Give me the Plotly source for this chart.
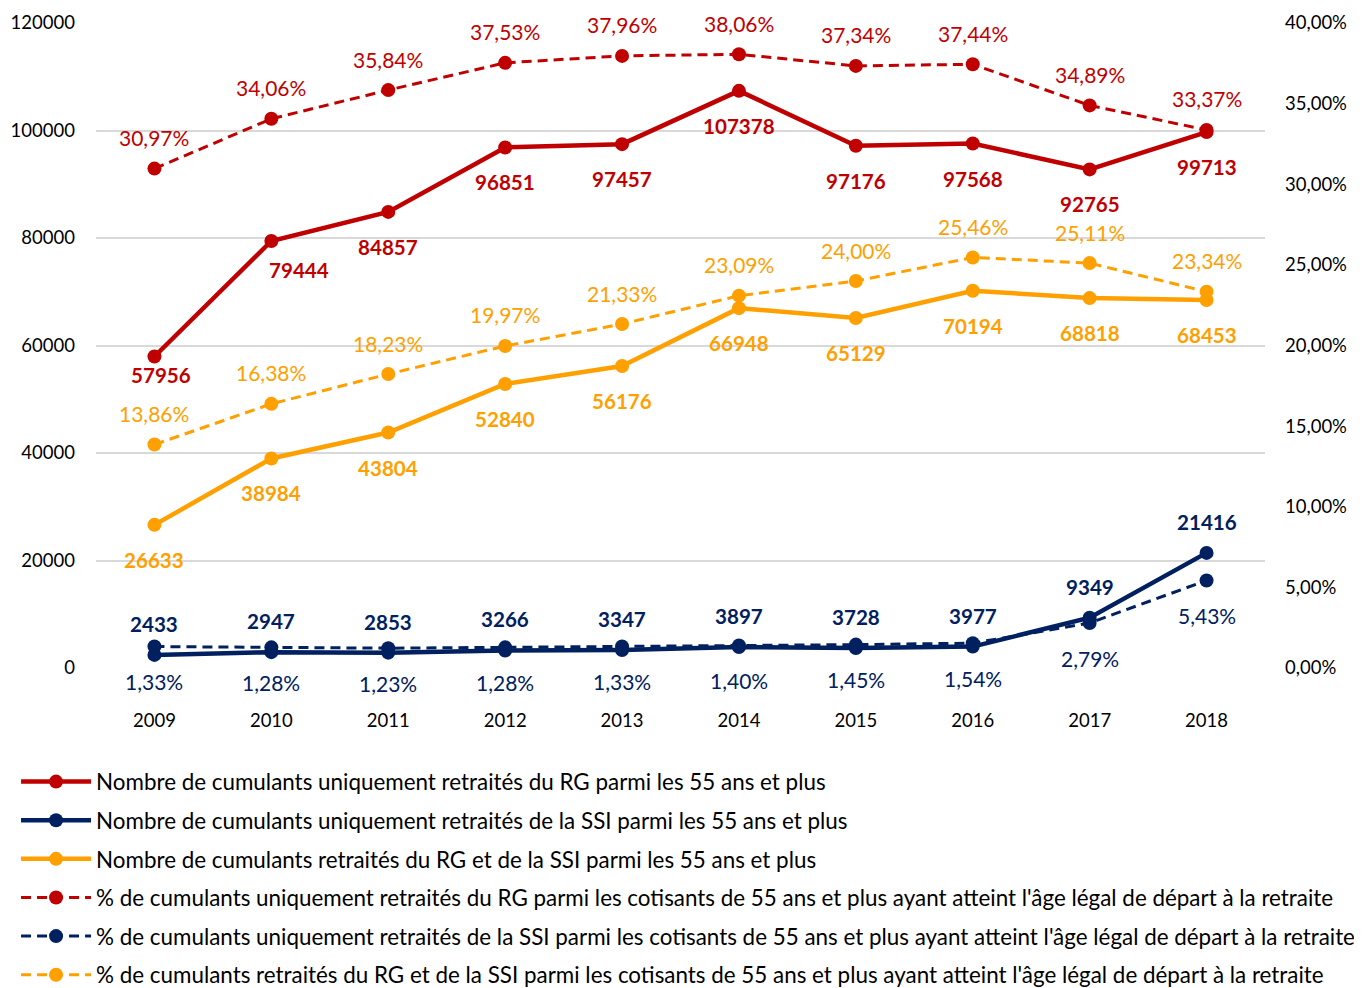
import plotly.graph_objects as go

years = ["2009", "2010", "2011", "2012", "2013", "2014", "2015", "2016", "2017", "2018"]

rg_count = [57956, 79444, 84857, 96851, 97457, 107378, 97176, 97568, 92765, 99713]
ssi_count = [2433, 2947, 2853, 3266, 3347, 3897, 3728, 3977, 9349, 21416]
both_count = [26633, 38984, 43804, 52840, 56176, 66948, 65129, 70194, 68818, 68453]

rg_pct = [30.97, 34.06, 35.84, 37.53, 37.96, 38.06, 37.34, 37.44, 34.89, 33.37]
ssi_pct = [1.33, 1.28, 1.23, 1.28, 1.33, 1.40, 1.45, 1.54, 2.79, 5.43]
both_pct = [13.86, 16.38, 18.23, 19.97, 21.33, 23.09, 24.00, 25.46, 25.11, 23.34]

names = [
    "Nombre de cumulants uniquement retraités du RG parmi les 55 ans et plus",
    "Nombre de cumulants uniquement retraités de la SSI parmi les 55 ans et plus",
    "Nombre de cumulants retraités du RG et de la SSI parmi les 55 ans et plus",
    "% de cumulants uniquement retraités du RG parmi les cotisants de 55 ans et plus ayant atteint l'âge légal de départ à la retraite",
    "% de cumulants uniquement retraités de la SSI parmi les cotisants de 55 ans et plus ayant atteint l'âge légal de départ à la retraite",
    "% de cumulants retraités du RG et de la SSI parmi les cotisants de 55 ans et plus ayant atteint l'âge légal de départ à la retraite",
]

RED = "#C00000"
NAVY = "#002060"
ORANGE = "#FFA000"
FONT = "Lato"

xpos = list(range(len(years)))

fig = go.Figure()

def add_series(y, name, color, dashed, axis, group):
    fig.add_trace(go.Scatter(
        x=xpos, y=y, name=name, mode="lines+markers",
        line=dict(color=color, width=3 if dashed else 4.5,
                  dash="10px,6px" if dashed else "solid"),
        marker=dict(color=color, size=14, symbol="circle"),
        yaxis=axis, legendgroup=group,
    ))

add_series(rg_count, names[0], RED, False, "y", "g1")
add_series(ssi_count, names[1], NAVY, False, "y", "g2")
add_series(both_count, names[2], ORANGE, False, "y", "g3")
add_series([v / 100 for v in rg_pct], names[3], RED, True, "y2", "g4")
add_series([v / 100 for v in ssi_pct], names[4], NAVY, True, "y2", "g5")
add_series([v / 100 for v in both_pct], names[5], ORANGE, True, "y2", "g6")

ABOVE = -31
BELOW = 35
# manual label offsets (dx, dy in px) used in the original for a couple of labels
rg_label_override = {0: (7, 19), 1: (28, 29)}

def pct_text(v):
    return f"{v:.2f}".replace(".", ",") + "%"

def add_labels(vals, texts, color, bold, yref, shift, override=None):
    for i, (v, t) in enumerate(zip(vals, texts)):
        dx, dy = 0, shift
        if override and i in override:
            dx, dy = override[i]
        fig.add_annotation(
            x=xpos[i], y=v, xref="x", yref=yref, text=f"<b>{t}</b>" if bold else t,
            showarrow=False, xshift=dx, yshift=-dy, xanchor="center", yanchor="middle",
            font=dict(family=FONT, size=20.6 if bold else 21, color=color),
        )

add_labels(rg_count, [str(v) for v in rg_count], RED, True, "y", BELOW, rg_label_override)
add_labels(ssi_count, [str(v) for v in ssi_count], NAVY, True, "y", ABOVE)
add_labels(both_count, [str(v) for v in both_count], ORANGE, True, "y", BELOW)
add_labels([v / 100 for v in rg_pct], [pct_text(v) for v in rg_pct], RED, False, "y2", ABOVE)
add_labels([v / 100 for v in ssi_pct], [pct_text(v) for v in ssi_pct], NAVY, False, "y2", BELOW)
add_labels([v / 100 for v in both_pct], [pct_text(v) for v in both_pct], ORANGE, False, "y2", ABOVE)

TICKFONT = dict(family=FONT, size=18.5, color="#000000")

fig.update_layout(
    width=1354, height=980,
    margin=dict(l=88, r=97, t=15, b=320, pad=0),
    paper_bgcolor="white", plot_bgcolor="white",
    separators=", ",
    font=dict(family=FONT, size=18, color="#000000"),
    showlegend=True,
    xaxis=dict(range=[-0.5, 9.5], tickmode="array", tickvals=xpos, ticktext=years,
               showgrid=False, showline=False, automargin=False,
               zeroline=False, ticks="", ticklabelstandoff=39, tickfont=TICKFONT),
    yaxis=dict(range=[0, 120000], dtick=20000, tickformat="d", showgrid=True,
               gridcolor="#D9D9D9", gridwidth=1.5, zeroline=False, showline=False,
               ticks="", ticklabelstandoff=20, automargin=False, tickfont=TICKFONT),
    yaxis2=dict(range=[0, 0.4], dtick=0.05, tickformat=".2%", overlaying="y", side="right",
                showgrid=False, zeroline=False, showline=False, ticks="",
                ticklabelstandoff=19, automargin=False, tickfont=TICKFONT),
    legend=dict(orientation="v", xref="paper", x=-0.0684, xanchor="left",
                yref="container", y=0.2321, yanchor="top",
                traceorder="grouped", tracegroupgap=6.5, itemwidth=70,
                bgcolor="rgba(0,0,0,0)",
                font=dict(family=FONT, size=22.4, color="#000000"),
                itemclick=False, itemdoubleclick=False),
)

fig.write_html("out.html")
